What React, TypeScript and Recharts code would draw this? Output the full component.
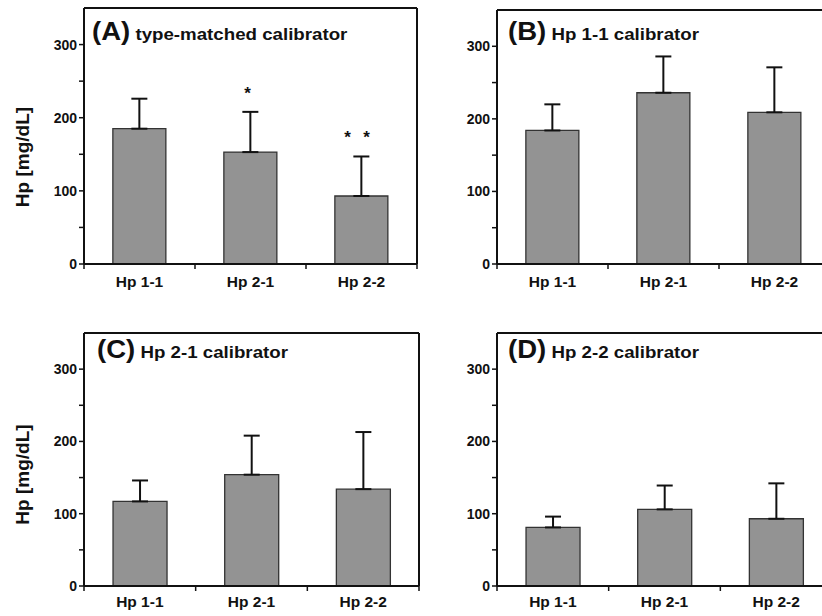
import React from 'react';
import { ComposedChart, Bar, ErrorBar, XAxis, YAxis, Scatter, Label } from 'recharts';

const categories = ['Hp 1-1', 'Hp 2-1', 'Hp 2-2'];

const meanA = [185, 153, 93];
const sdA = [41, 55, 54];
const starsA = [0, 1, 2];
const starAtA = [null, 239, 179];

const meanB = [184, 236, 209];
const sdB = [36, 50, 62];

const meanC = [117, 154, 134];
const sdC = [29, 54, 79];

const meanD = [81, 106, 93];
const sdD = [15, 33, 49];

const yTicks = [0, 50, 100, 150, 200, 250, 300];

const FONT = '"Liberation Sans", Arial, sans-serif';
const INK = '#111';

function build(mean: number[], sd: number[], stars?: number[], starAt?: (number | null)[]) {
  return categories.map((name, i) => ({
    name,
    mean: mean[i],
    err: [0, sd[i]],
    stars: stars ? stars[i] : 0,
    starAt: starAt ? starAt[i] : null,
  }));
}

// category label plus tick marks on the band edges
function XTick(props: any) {
  const { x, y, payload, gap, index, visibleTicksCount } = props;
  const half = payload.offset || 0;
  const last = index === visibleTicksCount - 1;
  return (
    <g>
      <line x1={x - half} y1={y} x2={x - half} y2={y + 5} stroke={INK} strokeWidth={1.5} />
      {last && <line x1={x + half} y1={y} x2={x + half} y2={y + 5} stroke={INK} strokeWidth={1.5} />}
      <text
        x={x}
        y={y + gap}
        textAnchor="middle"
        dominantBaseline="central"
        fontFamily={FONT}
        fontWeight="bold"
        fontSize={15.5}
        fill={INK}
      >
        {payload.value}
      </text>
    </g>
  );
}

function Stars(props: any) {
  const { cx, cy, payload } = props;
  if (!payload || !payload.stars || cy == null || isNaN(cy)) return null;
  const offs = payload.stars === 2 ? [-14, 5] : [-3];
  return (
    <g>
      {offs.map((o, i) => (
        <text key={i} x={cx + o} y={cy + 10} textAnchor="middle" fontFamily={FONT} fontWeight="bold" fontSize={17} fill={INK}>
          *
        </text>
      ))}
    </g>
  );
}

type PanelProps = {
  left: number;
  top: number;
  axisW: number;
  plotW: number;
  plotTop: number;
  plotH: number;
  tag: string;
  title: string;
  titleX: number;
  titleY: number;
  data: any[];
  showLabel?: boolean;
  labelShift?: number;
  tickGap: number;
};

function Panel(p: PanelProps) {
  const width = p.axisW + p.plotW + 4;
  const height = p.plotTop + p.plotH + 36;
  return (
    <div style={{ position: 'absolute', left: p.left, top: p.top, width, height }}>
      <ComposedChart
        width={width}
        height={height}
        data={p.data}
        margin={{ top: p.plotTop - 1, right: 3, left: 0, bottom: 0 }}
        barCategoryGap="26%"
      >
        <XAxis
          xAxisId="cat"
          dataKey="name"
          type="category"
          height={36}
          interval={0}
          tickSize={0}
          tickMargin={0}
          tickLine={false}
          axisLine={{ stroke: INK, strokeWidth: 2 }}
          tick={<XTick gap={p.tickGap} />}
        />
        <XAxis
          xAxisId="top"
          orientation="top"
          type="number"
          domain={[0, 3]}
          height={1}
          tick={false}
          tickLine={false}
          axisLine={{ stroke: INK, strokeWidth: 2 }}
        />
        <YAxis
          yAxisId="y"
          type="number"
          domain={[0, 350]}
          ticks={yTicks}
          interval={0}
          width={p.axisW}
          tickSize={5}
          tickMargin={2}
          tickFormatter={(v: number) => (v % 100 === 0 ? String(v) : '')}
          tick={{ fontFamily: FONT, fontWeight: 'bold', fontSize: 14, fill: INK }}
          tickLine={{ stroke: INK, strokeWidth: 1.5 }}
          axisLine={{ stroke: INK, strokeWidth: 2 }}
        >
          {p.showLabel && (
            <Label
              content={(lp: any) => {
                const vb = lp.viewBox || { y: 0, height: 0 };
                const cy = vb.y + vb.height / 2 + (p.labelShift || 0);
                const cx = 22;
                return (
                  <text
                    x={cx}
                    y={cy}
                    transform={`rotate(-90 ${cx} ${cy})`}
                    textAnchor="middle"
                    dominantBaseline="central"
                    fontFamily={FONT}
                    fontWeight="bold"
                    fontSize={19}
                    fill={INK}
                  >
                    Hp [mg/dL]
                  </text>
                );
              }}
            />
          )}
        </YAxis>
        <YAxis
          yAxisId="r"
          orientation="right"
          type="number"
          domain={[0, 350]}
          width={1}
          tick={false}
          tickLine={false}
          axisLine={{ stroke: INK, strokeWidth: 2 }}
        />
        <Bar
          xAxisId="cat"
          yAxisId="y"
          dataKey="mean"
          fill="#939393"
          stroke="#333"
          strokeWidth={1.3}
          isAnimationActive={false}
        >
          <ErrorBar dataKey="err" direction="y" width={8} strokeWidth={2} stroke={INK} />
        </Bar>
        <Scatter
          xAxisId="cat"
          yAxisId="y"
          dataKey="starAt"
          shape={<Stars />}
          isAnimationActive={false}
        />
      </ComposedChart>
      <div
        style={{
          position: 'absolute',
          left: p.titleX,
          top: p.titleY,
          whiteSpace: 'nowrap',
          fontFamily: FONT,
          fontWeight: 'bold',
          color: INK,
          lineHeight: 1,
          transform: 'scaleX(1.1)',
          transformOrigin: 'left top',
        }}
      >
        <span style={{ fontSize: 25 }}>{p.tag}</span>
        <span style={{ fontSize: 17 }}> {p.title}</span>
      </div>
    </div>
  );
}

export default function App() {
  return (
    <div
      style={{
        position: 'fixed',
        left: 0,
        top: 0,
        width: 822,
        height: 616,
        overflow: 'hidden',
        background: '#fff',
      }}
    >
      <Panel
        left={0}
        top={0}
        axisW={84}
        plotW={333}
        plotTop={8}
        plotH={256}
        tag="(A)"
        title="type-matched calibrator"
        titleX={92}
        titleY={19}
        data={build(meanA, sdA, starsA, starAtA)}
        showLabel
        labelShift={21}
        tickGap={17}
      />
      <Panel
        left={411}
        top={0}
        axisW={86}
        plotW={333}
        plotTop={10}
        plotH={254}
        tag="(B)"
        title="Hp 1-1 calibrator"
        titleX={97}
        titleY={19}
        data={build(meanB, sdB)}
        tickGap={17}
      />
      <Panel
        left={0}
        top={325}
        axisW={84}
        plotW={335}
        plotTop={8}
        plotH={253}
        tag="(C)"
        title="Hp 2-1 calibrator"
        titleX={97}
        titleY={12}
        data={build(meanC, sdC)}
        showLabel
        labelShift={15}
        tickGap={15}
      />
      <Panel
        left={411}
        top={325}
        axisW={86}
        plotW={335}
        plotTop={8}
        plotH={253}
        tag="(D)"
        title="Hp 2-2 calibrator"
        titleX={97}
        titleY={12}
        data={build(meanD, sdD)}
        tickGap={15}
      />
    </div>
  );
}
